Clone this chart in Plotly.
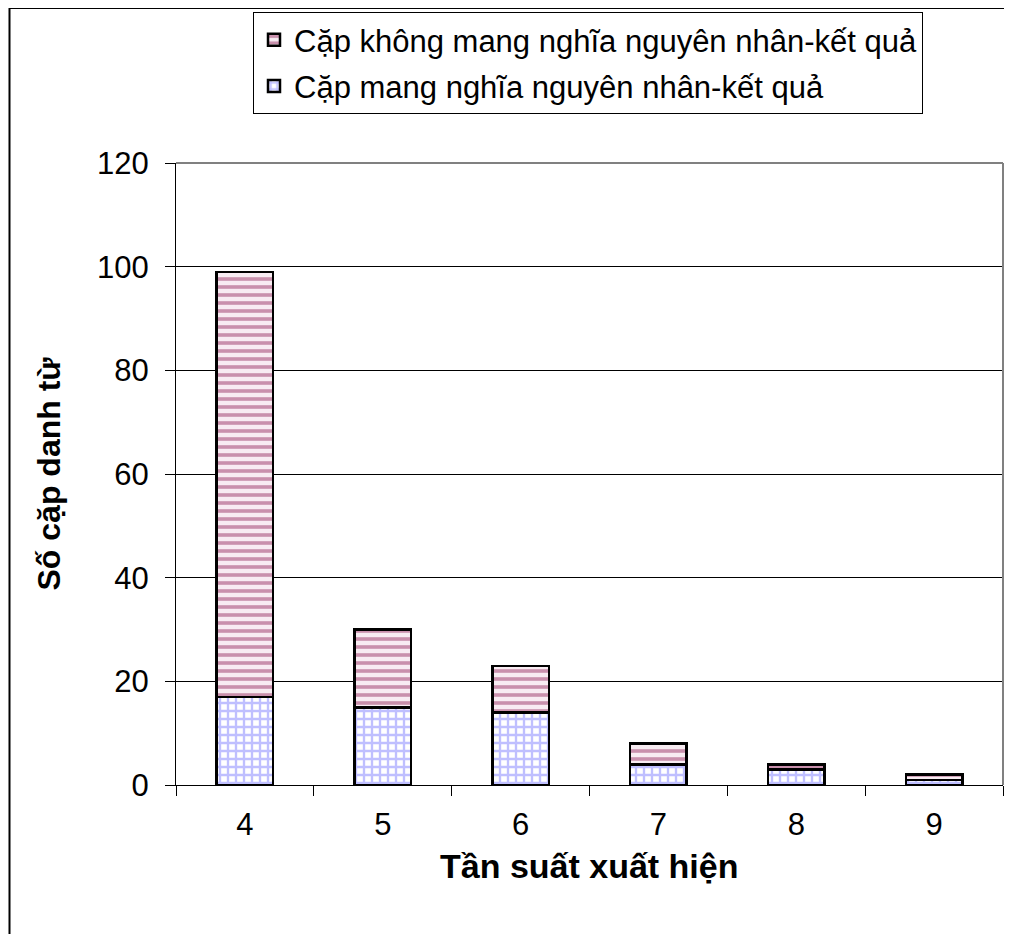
import plotly.graph_objects as go

categories = ["4", "5", "6", "7", "8", "9"]
cause_effect = [17, 15, 14, 4, 3, 1]
non_cause_effect = [82, 15, 9, 4, 1, 1]
y_ticks = [0, 20, 40, 60, 80, 100, 120]
x_title = "Tần suất xuất hiện"
y_title = "Số cặp danh từ"

# page body has an 8px margin, so lay out in a 1004x926 figure
OFF = 8
W, H = 1012 - OFF, 934 - OFF
L, T = 176 - OFF, 163 - OFF
R = W - (1003 - OFF)
B = H - (785 - OFF)
pw, ph = W - L - R, H - T - B

fig = go.Figure()
fig.add_trace(go.Bar(
    x=categories, y=cause_effect, name="Cặp mang nghĩa nguyên nhân-kết quả",
    width=0.41, legendgroup="a", legendrank=2,
    marker=dict(color="white", line=dict(color="black", width=2.5),
                pattern=dict(shape="+", fgcolor="#7F7FFF", bgcolor="white", size=8, solidity=0.5)),
))
fig.add_trace(go.Bar(
    x=categories, y=non_cause_effect, name="Cặp không mang nghĩa nguyên nhân-kết quả",
    width=0.41, legendgroup="b", legendrank=1,
    marker=dict(color="white", line=dict(color="black", width=2.5),
                pattern=dict(shape="-", fgcolor="#993366", bgcolor="#F8ECF2", size=8, solidity=0.45)),
))

def fx(p):
    return (p - OFF - L) / pw

def fy(p):
    return (H - B - (p - OFF)) / ph

fig.update_layout(
    width=W, height=H,
    barmode="stack",
    plot_bgcolor="white", paper_bgcolor="white",
    margin=dict(l=L, r=R, t=T, b=B, autoexpand=False),
    font=dict(family="Liberation Sans, Arial, sans-serif", size=30, color="black"),
    showlegend=True,
    legend=dict(
        traceorder="grouped",
        x=fx(253), y=fy(12), xanchor="left", yanchor="top",
        bordercolor="black", borderwidth=1, bgcolor="white",
        font=dict(size=31), tracegroupgap=3, itemwidth=30,
    ),
    xaxis=dict(
        type="category", tickson="boundaries", ticks="outside", ticklen=10,
        tickcolor="black", showline=True, linecolor="black", linewidth=1,
        showgrid=False, tickfont=dict(size=31), automargin=False,
        ticklabelstandoff=12,
    ),
    yaxis=dict(
        range=[0, 120], tickvals=y_ticks, ticks="outside", ticklen=10,
        tickcolor="black", showline=True, linecolor="black", linewidth=1,
        showgrid=True, gridcolor="black", gridwidth=1, zeroline=False,
        tickfont=dict(size=31), automargin=False, ticklabelstandoff=10,
        title=dict(text="<b>" + y_title + "</b>", font=dict(size=32), standoff=26),
    ),
    annotations=[dict(
        text="<b>" + x_title + "</b>", xref="paper", yref="paper",
        x=0.5, y=fy(866), xanchor="center", yanchor="middle",
        showarrow=False, font=dict(size=34),
    )],
)

# gray top/right plot border
fig.add_shape(type="line", xref="paper", yref="paper", x0=0, x1=1, y0=1, y1=1,
              line=dict(color="#808080", width=2))
fig.add_shape(type="line", xref="paper", yref="paper", x0=1, x1=1, y0=0, y1=1,
              line=dict(color="#808080", width=2))
# outer chart frame
fig.add_shape(type="rect", xref="paper", yref="paper",
              x0=fx(9.5), x1=fx(1040), y0=fy(960), y1=fy(8),
              line=dict(color="black", width=2), fillcolor="rgba(0,0,0,0)", layer="above")

fig.write_html("out.html")
